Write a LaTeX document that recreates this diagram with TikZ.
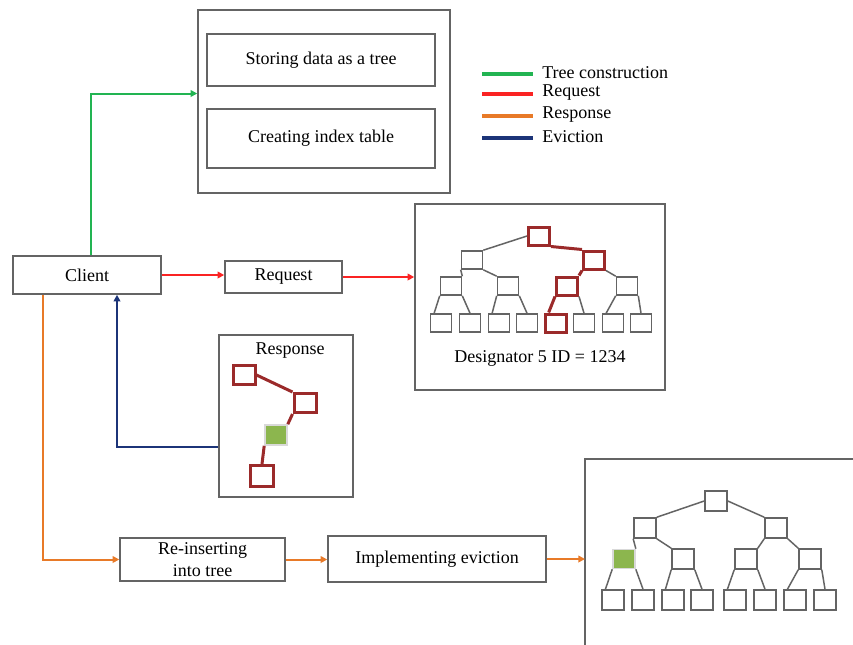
\documentclass[tikz,border=0pt]{standalone}
\usepackage{fontspec}
\setmainfont{Liberation Serif}
\usetikzlibrary{arrows.meta}
\newlength\px
\setlength\px{0.75pt}
\definecolor{treegreen}{RGB}{34,180,82}
\definecolor{reqred}{RGB}{250,35,35}
\definecolor{resporange}{RGB}{232,122,40}
\definecolor{evictblue}{RGB}{28,52,120}
\definecolor{pathred}{RGB}{155,42,42}
\definecolor{leafgreen}{RGB}{140,182,78}
\definecolor{boxgray}{RGB}{100,100,100}

\tikzset{
	box/.style={draw=boxgray, line width=1.5\px, fill=white, inner sep=0pt, align=center, font=\fontsize{13.5}{17}\selectfont},
	tnode/.style={draw=boxgray, line width=1.6\px, fill=white, minimum width=21\px, minimum height=18\px, inner sep=0pt},
	hot/.style={tnode, draw=pathred, line width=3\px},
	done/.style={tnode, draw=black!15, fill=leafgreen},
	tedge/.style={draw=boxgray, line width=1.5\px},
	hedge/.style={draw=pathred, line width=3\px},
	flow/.style={line width=1.5pt, -{Triangle[length=5pt,width=5pt]}},
	leg/.style={line width=3.2pt},
	legtext/.style={anchor=west, inner sep=0pt, font=\fontsize{13.5}{14}\selectfont},
}

\begin{document}
\begin{tikzpicture}[x=0.75pt, y=-0.75pt]
	\useasboundingbox (0,0) rectangle (853,644);
	\clip (0,0) rectangle (853,644);
	
	\node[box, minimum width=148\px, minimum height=38\px] (client) at (87,275) {Client};
	\node[box, minimum width=117\px, minimum height=32\px] (request) at (283.5,277) {Request};
	
	\node[box, minimum width=252\px, minimum height=183\px] (store) at (324,101.5) {};
	\node[box, minimum width=228\px, minimum height=52\px] (storing) at (321,60) {Storing data as a tree};
	\node[box, minimum width=228\px, minimum height=59\px] (index) at (321,138.5) {Creating index table};
	
	\node[box, minimum width=250\px, minimum height=186\px] (design) at (540,297) {};
	\node[box, draw=none, fill=none] (desigtext) at (540,358) {Designator 5 ID = 1234};
	
	\node[box, minimum width=134\px, minimum height=162\px] (response) at (286,416) {};
	\node[box, draw=none, fill=none] (resptext) at (290,351) {Response};
	
	\node[box, minimum width=165\px, minimum height=43\px] (reinsert) at (202.5,559.5) {Re-inserting\\into tree};
	\node[box, minimum width=218\px, minimum height=46\px] (evict) at (437,559) {Implementing eviction};
	
	\draw[boxgray, line width=1.5\px] (585,660) -- (585,459) -- (870,459);
	\coordinate (finalin) at (585,559);
	
	\draw[leg, treegreen] (482,74) -- (533,74);
	\draw[leg, reqred] (482,94) -- (533,94);
	\draw[leg, resporange] (482,116) -- (533,116);
	\draw[leg, evictblue] (482,138) -- (533,138);
	\node[legtext] (lgtree) at (542,73) {Tree construction};
	\node[legtext] (lgreq) at (542,93) {Request};
	\node[legtext] (lgresp) at (542,115) {Response};
	\node[legtext] (lgevict) at (542,137) {Eviction};
	
	\draw[flow, treegreen] ([xshift=3pt]client.north) |- ([yshift=6pt]store.west);
	\draw[flow, reqred] (client.east) -- (client.east -| request.west);
	\draw[flow, reqred] (request.east) -- (request.east -| design.west);
	\draw[flow, evictblue] ([yshift=-23pt]response.west) -| ([xshift=22.5pt]client.south);
	\draw[flow, resporange] ([xshift=-33pt]client.south) |- (reinsert.west);
	\draw[flow, resporange] (reinsert.east) -- (reinsert.east -| evict.west);
	\draw[flow, resporange] (evict.east) -- (evict.east -| finalin);
	
	\node[hot] (r) at (539,236) {};
	\node[tnode] (a1) at (472,260) {};
	\node[hot] (a2) at (594,260) {};
	\node[tnode] (b1) at (451,286) {};
	\node[tnode] (b2) at (508,286) {};
	\node[hot] (b3) at (567,286) {};
	\node[tnode] (b4) at (627,286) {};
	\node[tnode] (c1) at (441,323) {};
	\node[tnode] (c2) at (470,323) {};
	\node[tnode] (c3) at (499,323) {};
	\node[tnode] (c4) at (527,323) {};
	\node[hot] (c5) at (556,323) {};
	\node[tnode] (c6) at (584,323) {};
	\node[tnode] (c7) at (613,323) {};
	\node[tnode] (c8) at (641,323) {};
	\draw[tedge] (r.west) -- (a1.north east);
	\draw[hedge] (r.south east) -- (a2.north west);
	\draw[tedge] (a1.south west) -- (b1.north east);
	\draw[tedge] (a1.south east) -- (b2.north west);
	\draw[hedge] (a2.south west) -- (b3.north east);
	\draw[tedge] (a2.south east) -- (b4.north west);
	\draw[tedge] (b1.south west) -- (c1.125);
	\draw[tedge] (b1.south east) -- (c2.north);
	\draw[tedge] (b2.south west) -- (c3.125);
	\draw[tedge] (b2.south east) -- (c4.north);
	\draw[hedge] (b3.south west) -- (c5.125);
	\draw[tedge] (b3.south east) -- (c6.north);
	\draw[tedge] (b4.south west) -- (c7.125);
	\draw[tedge] (b4.south east) -- (c8.north);
	
	\node[hot, minimum width=22\px, minimum height=19\px] (ra) at (244,375) {};
	\node[hot, minimum width=22\px, minimum height=19\px] (rb) at (305,403) {};
	\node[done, minimum width=22\px, minimum height=20\px] (rg) at (276,435) {};
	\node[hot, minimum width=23\px, minimum height=21\px] (rc) at (262,476) {};
	\draw[hedge] (ra.east) -- (rb.north west);
	\draw[hedge] (rb.south west) -- (rg.north east);
	\draw[hedge] (rg.south west) -- (rc.north);
	
	\node[tnode, minimum width=22\px, minimum height=20\px] (f0) at (716,501) {};
	\node[tnode, minimum width=22\px, minimum height=20\px] (f1) at (645,528) {};
	\node[tnode, minimum width=22\px, minimum height=20\px] (f2) at (776,528) {};
	\node[done, minimum width=22\px, minimum height=19\px] (g1) at (624,559) {};
	\node[tnode, minimum width=22\px, minimum height=20\px] (g2) at (683,559) {};
	\node[tnode, minimum width=22\px, minimum height=20\px] (g3) at (746,559) {};
	\node[tnode, minimum width=22\px, minimum height=20\px] (g4) at (810,559) {};
	\node[tnode, minimum width=22\px, minimum height=20\px] (h1) at (613,600) {};
	\node[tnode, minimum width=22\px, minimum height=20\px] (h2) at (643,600) {};
	\node[tnode, minimum width=22\px, minimum height=20\px] (h3) at (673,600) {};
	\node[tnode, minimum width=22\px, minimum height=20\px] (h4) at (702,600) {};
	\node[tnode, minimum width=22\px, minimum height=20\px] (h5) at (735,600) {};
	\node[tnode, minimum width=22\px, minimum height=20\px] (h6) at (765,600) {};
	\node[tnode, minimum width=22\px, minimum height=20\px] (h7) at (795,600) {};
	\node[tnode, minimum width=22\px, minimum height=20\px] (h8) at (825,600) {};
	\draw[tedge] (f0.west) -- (f1.north east);
	\draw[tedge] (f0.east) -- (f2.north west);
	\draw[tedge] (f1.south west) -- (g1.north east);
	\draw[tedge] (f1.south east) -- (g2.north west);
	\draw[tedge] (f2.south west) -- (g3.north east);
	\draw[tedge] (f2.south east) -- (g4.north west);
	\draw[tedge] (g1.south west) -- (h1.125);
	\draw[tedge] (g1.south east) -- (h2.north);
	\draw[tedge] (g2.south west) -- (h3.125);
	\draw[tedge] (g2.south east) -- (h4.north);
	\draw[tedge] (g3.south west) -- (h5.125);
	\draw[tedge] (g3.south east) -- (h6.north);
	\draw[tedge] (g4.south west) -- (h7.125);
	\draw[tedge] (g4.south east) -- (h8.north);
	
\end{tikzpicture}
\end{document}
